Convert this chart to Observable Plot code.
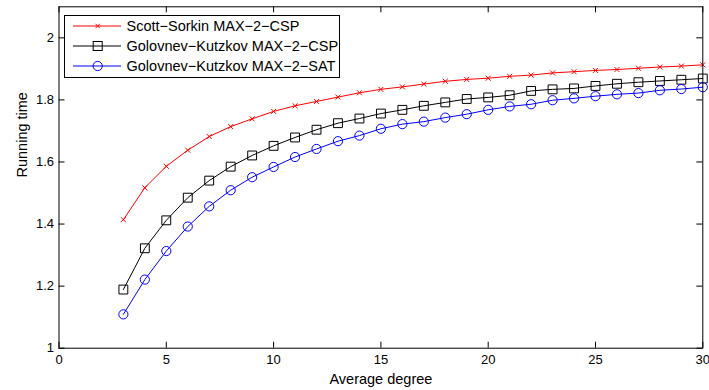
<!DOCTYPE html>
<html><head><meta charset="utf-8">
<script src="https://cdn.jsdelivr.net/npm/d3@7"></script>
<script src="https://cdn.jsdelivr.net/npm/@observablehq/plot@0.6"></script>
<style>
body{margin:0;background:#fff;font-family:"Liberation Sans",Arial,sans-serif;}
#wrap{position:relative;width:709px;height:390px;}
#legend{position:absolute;left:64px;top:15px;}
</style></head>
<body><div id="wrap"></div>
<script>
const degrees = [3,4,5,6,7,8,9,10,11,12,13,14,15,16,17,18,19,20,21,22,23,24,25,26,27,28,29,30];
const scottSorkinCSP = [1.414,1.517,1.586,1.638,1.682,1.714,1.739,1.763,1.781,1.795,1.809,1.823,1.834,1.842,1.851,1.860,1.866,1.870,1.876,1.880,1.887,1.891,1.895,1.898,1.902,1.906,1.909,1.913];
const golovnevKutzkovCSP = [1.189,1.322,1.412,1.485,1.540,1.585,1.621,1.652,1.679,1.704,1.725,1.740,1.756,1.768,1.781,1.792,1.803,1.808,1.815,1.829,1.834,1.837,1.845,1.852,1.857,1.861,1.865,1.869];
const golovnevKutzkovSAT = [1.109,1.221,1.313,1.392,1.457,1.509,1.551,1.584,1.616,1.642,1.667,1.685,1.707,1.722,1.730,1.743,1.754,1.768,1.779,1.786,1.799,1.805,1.812,1.818,1.822,1.831,1.835,1.841];
const seriesNames = ["Scott\u2212Sorkin MAX\u22122\u2212CSP","Golovnev\u2212Kutzkov MAX\u22122\u2212CSP","Golovnev\u2212Kutzkov MAX\u22122\u2212SAT"];
const xTicks = [0,5,10,15,20,25,30];
const yTicks = [1,1.2,1.4,1.6,1.8,2];
const xLabel = ["Average degree"];
const yLabel = ["Running time"];

const W = 709, H = 390, mt = 6.3, mb = 42.3, ml = 58.5, mr = 6.7;
const ph = H - mt - mb, pw = W - ml - mr;
const tl = 6;
const font = '"Liberation Sans",Arial,sans-serif';

const mk = (ys) => degrees.map((x, i) => ({x, y: ys[i]}));
const red = mk(scottSorkinCSP), blk = mk(golovnevKutzkovCSP), blu = mk(golovnevKutzkovSAT);

const chart = Plot.plot({
  width: W, height: H,
  marginTop: mt, marginBottom: mb, marginLeft: ml, marginRight: mr,
  style: {fontFamily: font, fontSize: "13px", color: "#000", background: "#fff"},
  x: {domain: [0, 30]},
  y: {domain: [1, 2.1]},
  marks: [
    Plot.line(red, {x: "x", y: "y", stroke: "#ff0000", strokeWidth: 1}),
    Plot.dot(red, {x: "x", y: "y", symbol: "times", r: 2.4, stroke: "#ff0000", strokeWidth: 1}),
    Plot.line(blk, {x: "x", y: "y", stroke: "#000", strokeWidth: 1}),
    Plot.dot(blk, {x: "x", y: "y", symbol: "square", r: 5, stroke: "#000", strokeWidth: 1}),
    Plot.line(blu, {x: "x", y: "y", stroke: "#0000ff", strokeWidth: 1}),
    Plot.dot(blu, {x: "x", y: "y", symbol: "circle", r: 4.6, stroke: "#0000ff", strokeWidth: 1}),
    Plot.tickX(xTicks, {x: d => d, insetTop: ph - tl, stroke: "#000"}),
    Plot.tickX(xTicks, {x: d => d, insetBottom: ph - tl, stroke: "#000"}),
    Plot.tickY(yTicks, {y: d => d, insetRight: pw - tl, stroke: "#000"}),
    Plot.tickY(yTicks, {y: d => d, insetLeft: pw - tl, stroke: "#000"}),
    Plot.axisX(xTicks, {tickSize: 0, tickPadding: 7, label: null, tickFormat: d => String(d)}),
    Plot.axisY(yTicks, {tickSize: 0, tickPadding: 5, label: null, tickFormat: d => String(d)}),
    Plot.text(xLabel, {text: d => d, frameAnchor: "bottom", dy: 31, lineAnchor: "middle", fontSize: 14.5, fill: "#000"}),
    Plot.text(yLabel, {text: d => d, frameAnchor: "left", dx: -36.5, rotate: -90, lineAnchor: "middle", fontSize: 14.5, fill: "#000"}),
    Plot.frame({stroke: "#000", strokeWidth: 1})
  ]
});
const wrap = document.getElementById("wrap");
wrap.appendChild(chart);

// legend overlay
const ns = "http://www.w3.org/2000/svg";
const lg = document.createElementNS(ns, "svg");
lg.setAttribute("id", "legend");
lg.setAttribute("width", 277); lg.setAttribute("height", 64);
const el = (tag, attrs, parent) => { const e = document.createElementNS(ns, tag); for (const k in attrs) e.setAttribute(k, attrs[k]); parent.appendChild(e); return e; };
el("rect", {x: 0.5, y: 0.5, width: 275, height: 62, fill: "#fff", stroke: "#000", "stroke-width": 1}, lg);
const colors = ["#ff0000", "#000", "#0000ff"];
seriesNames.forEach((name, i) => {
  const cy = 11 + i * 20;
  el("line", {x1: 9, x2: 57, y1: cy, y2: cy, stroke: colors[i], "stroke-width": 1}, lg);
  if (i === 0) {
    el("path", {d: `M${33.7-2.2},${cy-2.2}L${33.7+2.2},${cy+2.2}M${33.7-2.2},${cy+2.2}L${33.7+2.2},${cy-2.2}`, stroke: colors[i], fill: "none"}, lg);
  } else if (i === 1) {
    el("rect", {x: 33.7-4.5, y: cy-4.5, width: 9, height: 9, stroke: colors[i], fill: "none"}, lg);
  } else {
    el("circle", {cx: 33.7, cy, r: 4.6, stroke: colors[i], fill: "none"}, lg);
  }
  const t = el("text", {x: 62.5, y: cy + 5, "font-size": "14.5px", "font-family": font, fill: "#000"}, lg);
  t.textContent = name;
});
wrap.appendChild(lg);
</script></body></html>
